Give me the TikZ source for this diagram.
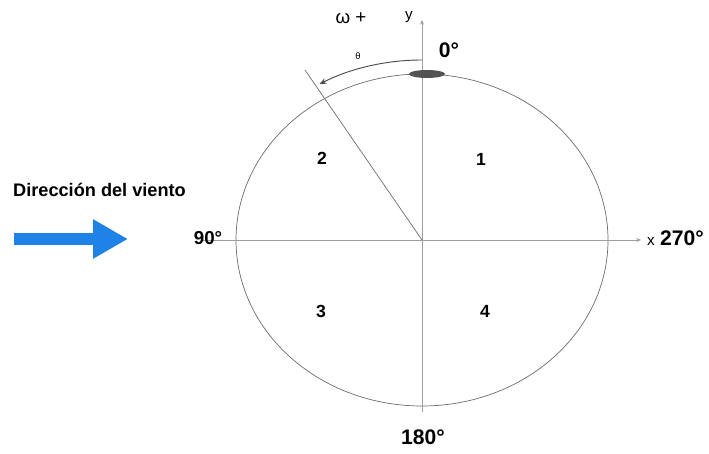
\documentclass[tikz,border=0pt]{standalone}
\usepackage{fontspec}
\setmainfont{Liberation Sans}
\usetikzlibrary{arrows.meta, positioning, calc}
\tikzset{
	axisline/.style={draw=gray!75, line width=0.8pt},
	rotorline/.style={draw=gray!85!black, line width=0.6pt}
}
\tikzset{
	quadtext/.style={font=\fontsize{15}{17}\selectfont\bfseries},
	degtext/.style={font=\fontsize{18}{20}\selectfont\bfseries}
}

\begin{document}
\begin{tikzpicture}[x=0.03cm, y=0.03cm, >=Stealth]
      \useasboundingbox (0,0) rectangle (709,453);
      \coordinate (O) at (422,213);
      \coordinate (ybot) at (422,41);
      \coordinate (ytop) at (422,433);
      \coordinate (xleft) at (203,213);
      \coordinate (xright) at (641,213);
      \coordinate (blade) at (305,383);
      \coordinate (windtail) at (14,214);
      \coordinate (windtip) at (128,214);

      % rotor path and axes
      \draw[rotorline] (O) ellipse[x radius=186, y radius=166];
      \draw[axisline, -{Stealth[length=4pt, width=3.5pt]}] (ybot) -- (ytop);
      \draw[axisline, -{Stealth[length=4pt, width=3.5pt]}] (xleft) -- (xright);
      \fill[gray!65!black] (427,379) ellipse[x radius=18, y radius=4];
      \draw[rotorline] (O) -- (blade);
      % angle theta, measured from y
      \draw[rotorline, draw=gray!60!black, line width=0.8pt, -{Stealth[length=6pt, width=5pt]}] ($(O)+(0,180)$) arc[start angle=90, end angle=120, x radius=205, y radius=180];

      \node[font=\fontsize{16}{18}\selectfont] (omega) at (351,435) {ω +};
      \node[font=\fontsize{13}{15}\selectfont] (ylbl) at (409,436) {y};
      \node[font=\fontsize{13}{15}\selectfont] (xlbl) at (651,212) {x};
      \node[font=\fontsize{8}{9}\selectfont] (theta) at (358,397) {θ};
      \node[degtext] (deg0) at (449,403) {0°};
      \node[degtext, font=\fontsize{16}{18}\selectfont\bfseries] (deg90) at (208,215) {90°};
      \node[degtext] (deg180) at (423,16) {180°};
      \node[degtext] (deg270) at (682,215) {270°};

      \node[quadtext] (q1) at (481,294) {1};
      \node[quadtext] (q2) at (322,295) {2};
      \node[quadtext] (q3) at (321,142) {3};
      \node[quadtext] (q4) at (485,142) {4};

      \node[anchor=west, font=\fontsize{15.5}{18}\selectfont\bfseries, inner sep=0pt] (wind) at (13,263) {Dirección del viento};
      \draw[draw={rgb,255:red,30;green,130;blue,230}, line width=0.36cm, -{Triangle[length=1.05cm, width=1.11cm]}] (windtail) -- (windtip);
    \end{tikzpicture}
\end{document}
